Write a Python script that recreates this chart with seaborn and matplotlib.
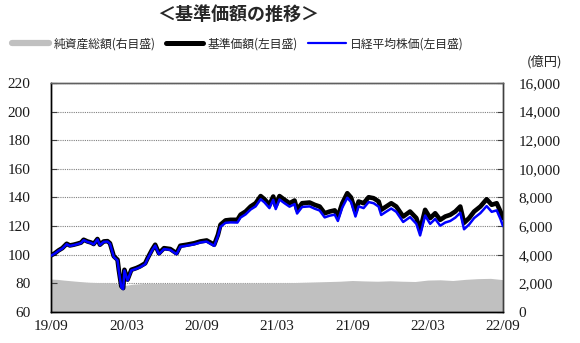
import matplotlib
matplotlib.use("Agg")
import matplotlib.pyplot as plt
from matplotlib.lines import Line2D
import seaborn as sns
import pandas as pd

sns.set_style("white")
plt.rcParams['font.family'] = ['Noto Sans CJK JP', 'DejaVu Sans']

# elapsed months since 19/09
months = [0.0,0.3,0.6,0.9,1.25,1.5,1.8,2.1,2.4,2.6,
          2.9,3.2,3.4,3.7,3.9,4.2,4.5,4.7,5.0,5.3,
          5.4,5.6,5.75,5.85,6.1,6.4,6.8,7.1,7.5,7.7,
          8.05,8.3,8.6,9.0,9.5,10.0,10.3,10.8,11.4,11.9,
          12.4,13.0,13.3,13.5,13.9,14.3,14.85,15.1,15.5,15.9,
          16.3,16.7,17.0,17.4,17.7,17.9,18.2,18.6,19.0,19.4,
          19.6,20.0,20.6,21.0,21.4,21.8,22.2,22.6,22.85,23.2,
          23.6,23.9,24.25,24.5,24.9,25.3,25.7,26.1,26.3,26.7,
          27.1,27.5,28.05,28.6,29.1,29.4,29.8,30.2,30.6,31.0,
          31.4,31.8,32.2,32.6,32.9,33.3,33.7,34.2,34.7,35.1,
          35.5,35.8,36.0]

fund = [99.5,101,103,104.6,107.7,106.5,107,107.7,108.5,110.5,
        109.3,108.5,107.5,111,107,109.3,109.5,108,99,96.5,
        89.5,78,76.7,89.5,82.6,89.5,90.7,91.9,94,97.7,
        103.5,107,101,104.6,104,101,106.3,107,108,109.3,
        110,107,114,121,124,124.4,124.4,128,130.2,133.7,
        136,141,138.8,134.9,140.7,134.2,141,138.4,136,137.9,
        131.4,136,136.5,134.9,133.7,129,130.2,131,126.7,136,
        143,140,130,137.2,136,140.2,139.5,137.2,131.4,133.7,
        136,133.7,126.7,130.2,125.6,117.4,131.4,125.6,129,124.4,
        126.7,127.9,130.2,133.7,122.3,125.6,130.2,133.7,138.8,134.9,
        136,130.2,125.6]

nikkei = [99.3,100.8,102.8,104.3,107.4,106.2,106.7,107.4,108.2,110.2,
          109.0,108.2,107.2,110.7,106.7,109.0,109.2,107.7,98.5,96.0,
          89.0,77.3,76.0,89.0,82.0,89.0,90.2,91.3,93.4,97.2,
          103.0,106.4,100.4,104.0,103.4,100.4,105.6,106.3,107.3,108.6,
          109.2,106.2,113.0,119.5,122.3,122.6,122.5,126.0,128.2,131.6,
          133.8,138.8,136.6,132.6,138.4,131.9,138.6,136.0,133.6,135.4,
          128.8,133.4,133.8,132.2,130.9,126.1,127.3,128.0,123.6,132.9,
          139.8,136.8,126.7,133.8,132.6,136.8,136.0,133.6,127.8,130.1,
          132.3,130.0,122.9,126.3,121.6,113.5,127.4,121.6,125.0,120.3,
          122.5,123.6,125.9,129.3,117.8,121.1,125.6,129.1,134.0,130.0,
          131.0,125.0,120.0]

na_months = [0,0.5,1,2,3,4,5,5.6,5.8,6.2,6.6,7.5,9,11,13,15,17,19,21,23,
             24,25,26,27,28,29,30,31,32,33,34,35,36]
net_assets = [2300,2280,2230,2150,2080,2050,2040,1900,1850,1900,1950,2000,2000,2010,
              2000,2020,2030,2050,2100,2150,2200,2170,2150,2180,2150,2130,2230,2250,
              2200,2280,2330,2350,2260]

x_ticks = [0, 6, 12, 18, 24, 30, 36]
x_labels = ['19/09', '20/03', '20/09', '21/03', '21/09', '22/03', '22/09']
left_ticks = [60, 80, 100, 120, 140, 160, 180, 200, 220]
right_ticks = [0, 2000, 4000, 6000, 8000, 10000, 12000, 14000, 16000]

df = pd.DataFrame({'m': months, 'fund': fund, 'nikkei': nikkei})
dfa = pd.DataFrame({'m': na_months, 'na': net_assets})

fig = plt.figure(figsize=(5.8, 3.43), dpi=100)
ax = fig.add_axes([0.0879, 0.0904, 0.7793, 0.6676])
ax2 = ax.twinx()
ax.set_zorder(ax2.get_zorder() + 1)
ax.patch.set_visible(False)

# grid + net assets on right axis
ax2.set_ylim(0, 16000)
ax2.set_yticks(right_ticks)
ax2.yaxis.grid(True, color='#808080', linestyle=(0, (1, 1)), linewidth=0.8, zorder=0)
ax2.set_axisbelow(True)
ax2.fill_between(dfa['m'], 0, dfa['na'], color='#c0c0c0', linewidth=0, zorder=2)

sns.lineplot(data=df, x='m', y='fund', ax=ax, color='black', linewidth=3.3, zorder=3)
sns.lineplot(data=df, x='m', y='nikkei', ax=ax, color='#0000ff', linewidth=1.8, zorder=4)

ax.set_xlim(0, 36)
ax.set_ylim(60, 220)
ax.set_yticks(left_ticks)
ax.set_xticks(x_ticks)
ax.set_xticklabels(x_labels)
ax.set_xlabel('')
ax.set_ylabel('')
ax2.set_ylabel('')
ax2.set_yticklabels([f'{v:,}' for v in right_ticks])

numfont = {'family': 'Liberation Serif', 'size': 11}
for lab in ax.get_yticklabels() + ax.get_xticklabels() + ax2.get_yticklabels():
    lab.set_fontfamily('Liberation Serif')
    lab.set_fontsize(11)
    lab.set_color('#1a1a1a')

ax.tick_params(axis='y', direction='in', length=4, pad=15, color='#404040')
ax.tick_params(axis='x', direction='in', length=4, pad=6, color='#404040')
ax2.tick_params(axis='y', direction='in', length=4, pad=11, color='#404040')

for a in (ax, ax2):
    for s in a.spines.values():
        s.set_linewidth(1.0)
    a.spines['left'].set_color('black')
    a.spines['bottom'].set_color('black')
    a.spines['right'].set_color('#404040')
    a.spines['top'].set_color('#606060')

fig.text(0.41, 0.958, '＜基準価額の推移＞', ha='center', va='center',
         fontsize=13, fontweight='bold', family=['Noto Sans CJK JP', 'DejaVu Sans'])
fig.text(0.938, 0.820, '(億円)', ha='center', va='center', fontsize=9.5,
         family=['Noto Sans CJK JP', 'DejaVu Sans'])

handles = [Line2D([], [], color='#c0c0c0', linewidth=4.5),
           Line2D([], [], color='black', linewidth=3.6),
           Line2D([], [], color='#0000ff', linewidth=1.6)]
labels = ['純資産総額(右目盛)', '基準価額(左目盛)', '日経平均株価(左目盛)']
fig.legend(handles, labels, loc='center', bbox_to_anchor=(0.41, 0.873), ncol=3,
           frameon=False, fontsize=8.5, handlelength=3.2, handletextpad=0.4,
           columnspacing=0.8, borderpad=0, borderaxespad=0)

fig.savefig('out.png', dpi=100)
